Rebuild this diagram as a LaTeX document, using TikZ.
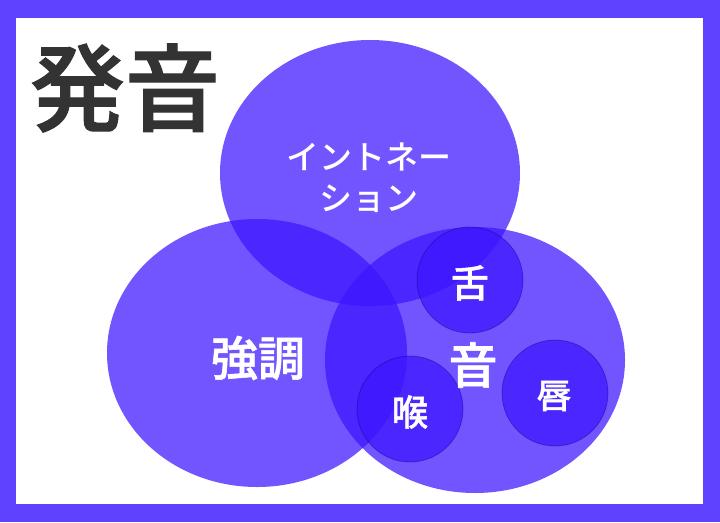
\documentclass[tikz,border=0pt]{standalone}
\usepackage{fontspec}
\newfontfamily\cjk{Noto Sans CJK JP}
\newfontfamily\cjkm{Noto Sans CJK JP Medium}
\newfontfamily\cjkmb{Noto Sans CJK JP Medium}[FakeBold=1.2]
\definecolor{frame}{RGB}{95,66,255}
\definecolor{bub}{RGB}{60,20,255}
\definecolor{ttl}{RGB}{51,51,51}
\begin{document}
\begin{tikzpicture}[x=1pt,y=-1pt,
  small/.style={circle,fill=bub,fill opacity=0.72,draw=black!60!blue,draw opacity=0.35,line width=0.8pt,minimum size=106pt,inner sep=0pt},
  lbl/.style={text=white}]
\useasboundingbox (0,0) rectangle (720,522);
\fill[frame] (0,0) rectangle (720,522);
\fill[white] (16,18) rectangle (703,504);
\node[text=ttl,font=\cjkmb\fontsize{95}{95}\selectfont] (title) at (125,88) {発音};
\path[fill=bub,fill opacity=0.72] (370,173) ellipse [x radius=150,y radius=133];
\path[fill=bub,fill opacity=0.72] (257,353) ellipse [x radius=150,y radius=134];
\path[fill=bub,fill opacity=0.72] (475,360) ellipse [x radius=150,y radius=133];
\node[small] (tongue) at (470,280) {};
\node[small] (throat) at (410,409) {};
\node[small] (lips) at (555,393) {};
\node[lbl,font=\cjkm\fontsize{33}{41}\selectfont,align=center] (inton) at (369,178) {イントネー\\ション};
\node[lbl,font=\cjkmb\fontsize{47}{47}\selectfont] (kyo) at (258,358) {強調};
\node[lbl,font=\cjkmb\fontsize{49}{49}\selectfont] (on) at (473,365) {音};
\node[lbl,font=\cjkmb\fontsize{38}{38}\selectfont] (zetsu) at (470,283) {舌};
\node[lbl,font=\cjkmb\fontsize{36}{36}\selectfont] (ko) at (410,412) {喉};
\node[lbl,font=\cjkmb\fontsize{35}{35}\selectfont] (shin) at (554,396) {唇};
\end{tikzpicture}
\end{document}
